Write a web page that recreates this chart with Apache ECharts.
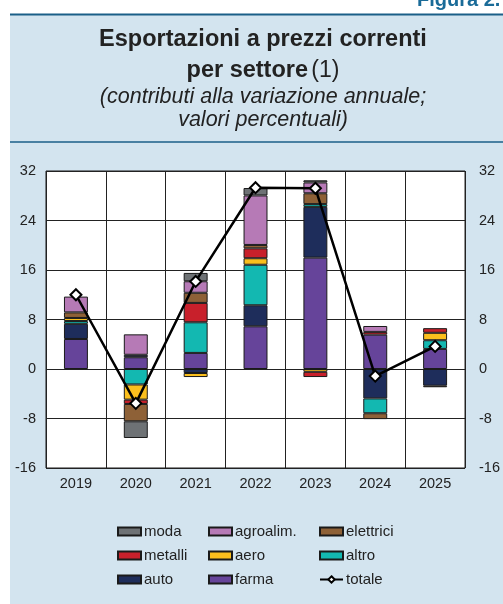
<!DOCTYPE html>
<html>
<head>
<meta charset="utf-8">
<script src="https://cdn.jsdelivr.net/npm/echarts@6/dist/echarts.min.js"></script>
<style>
  html, body { margin: 0; padding: 0; background: #ffffff; }
  #chart { width: 503px; height: 604px; }
</style>
</head>
<body>
<div id="chart"></div>
<script>
// dati
const years = ['2019', '2020', '2021', '2022', '2023', '2024', '2025']
const farma = [4.85, 1.9, 2.6, 6.9, 18.0, 5.55, 3.25]
const auto = [2.45, 0.4, -0.65, 3.4, 8.2, -4.75, -2.7]
const altro = [0.45, -2.5, 4.95, 6.55, 0.45, -2.4, 1.4]
const aero = [0.5, -2.45, -0.65, 1.05, -0.45, null, 1.2]
const metalli = [null, -0.7, 3.13, 1.6, -0.85, 0.45, 0.75]
const elettrici = [0.9, -2.8, 1.64, 0.55, 1.75, -0.95, -0.25]
const agroalim = [2.55, 3.3, 1.86, 8.0, 1.75, 0.95, null]
const moda = [null, -2.7, 1.35, 1.2, 0.35, null, null]
const totale = [12.0, -5.55, 14.15, 29.3, 29.2, -1.15, 3.65]
const yTicks = [-16, -8, 0, 8, 16, 24, 32]

const font = 'Liberation Sans, Arial, sans-serif'
const bg = '#d3e4ef'
const dark = '#1b5f88'

const barSeries = [
  { name: 'farma', data: farma, color: '#66449a' },
  { name: 'auto', data: auto, color: '#1e2d5b' },
  { name: 'altro', data: altro, color: '#13b8b1' },
  { name: 'aero', data: aero, color: '#fbbf1d' },
  { name: 'metalli', data: metalli, color: '#c8202b' },
  { name: 'elettrici', data: elettrici, color: '#8e6137' },
  { name: 'agroalim.', data: agroalim, color: '#b67ab6' },
  { name: 'moda', data: moda, color: '#6e7275' }
].map(s => ({
  name: s.name,
  type: 'bar',
  stack: 'tot',
  barWidth: '40%',
  data: s.data,
  itemStyle: { color: s.color, borderColor: '#1a1a1a', borderWidth: 1 }
}))

const legendBase = {
  orient: 'vertical',
  top: 524,
  itemWidth: 23,
  itemHeight: 8,
  itemGap: 9,
  padding: 0,
  textStyle: { fontFamily: font, fontSize: 15, color: '#222', padding: [0, 0, 0, -2] }
}
const box = name => ({ name: name, icon: 'rect' })

const myChart = echarts.init(document.getElementById('chart'))
const option = {
  backgroundColor: '#ffffff',
  animation: false,
  graphic: [
    { type: 'rect', shape: { x: 10, y: 14, width: 493, height: 590 }, style: { fill: bg }, z: -10 },
    { type: 'line', shape: { x1: 10, y1: 14.5, x2: 503, y2: 14.5 }, style: { stroke: dark, lineWidth: 2 } },
    { type: 'line', shape: { x1: 10, y1: 142, x2: 503, y2: 142 }, style: { stroke: dark, lineWidth: 1.5 } },
    { type: 'text', x: 417, y: 0, style: { text: 'Figura 2.', font: 'bold 20px ' + font, fill: '#1a6b98', verticalAlign: 'middle' } },
    { type: 'text', x: 263, y: 40, style: { text: 'Esportazioni a prezzi correnti', font: 'bold 23.5px ' + font, fill: '#222', align: 'center', verticalAlign: 'middle' } },
    {
      type: 'text', x: 263, y: 71,
      style: {
        text: '{b|per settore} {r|(1)}',
        align: 'center', verticalAlign: 'middle',
        rich: {
          b: { font: 'bold 23.5px ' + font, fill: '#222' },
          r: { font: '23px ' + font, fill: '#222' }
        }
      }
    },
    { type: 'text', x: 263, y: 97, style: { text: '(contributi alla variazione annuale;', font: 'italic 21.5px ' + font, fill: '#222', align: 'center', verticalAlign: 'middle' } },
    { type: 'text', x: 263, y: 120, style: { text: 'valori percentuali)', font: 'italic 21.5px ' + font, fill: '#222', align: 'center', verticalAlign: 'middle' } }
  ],
  grid: {
    left: 46, right: 35, top: 171, bottom: 136,
    show: true, backgroundColor: '#ffffff', borderColor: '#1a1a1a', borderWidth: 1
  },
  legend: [
    Object.assign({}, legendBase, { left: 117, data: [box('moda'), box('metalli'), box('auto')] }),
    Object.assign({}, legendBase, { left: 208, data: [box('agroalim.'), box('aero'), box('farma')] }),
    Object.assign({}, legendBase, { left: 319, data: [box('elettrici'), box('altro'), 'totale'] })
  ],
  xAxis: {
    type: 'category',
    data: years,
    axisTick: { show: false },
    axisLine: { show: false },
    axisLabel: { fontFamily: font, fontSize: 14.5, color: '#222', margin: 8 },
    splitLine: { show: true, interval: 0, lineStyle: { color: '#222', width: 1 } }
  },
  yAxis: [0, 1].map(i => ({
    type: 'value',
    position: i === 0 ? 'left' : 'right',
    min: yTicks[0],
    max: yTicks[yTicks.length - 1],
    interval: 8,
    axisLine: { show: false },
    axisTick: { show: false },
    axisLabel: { fontFamily: font, fontSize: 14.5, color: '#222', margin: i === 0 ? 10 : 14 },
    splitLine: { show: i === 0, lineStyle: { color: '#222', width: 1 } }
  })),
  series: barSeries.concat([{
    name: 'totale',
    type: 'line',
    data: totale,
    z: 5,
    symbol: 'diamond',
    symbolSize: 11,
    lineStyle: { color: '#000', width: 2.5 },
    itemStyle: { color: '#fff', borderColor: '#000', borderWidth: 2 }
  }])
}
myChart.setOption(option)
</script>
</body>
</html>
